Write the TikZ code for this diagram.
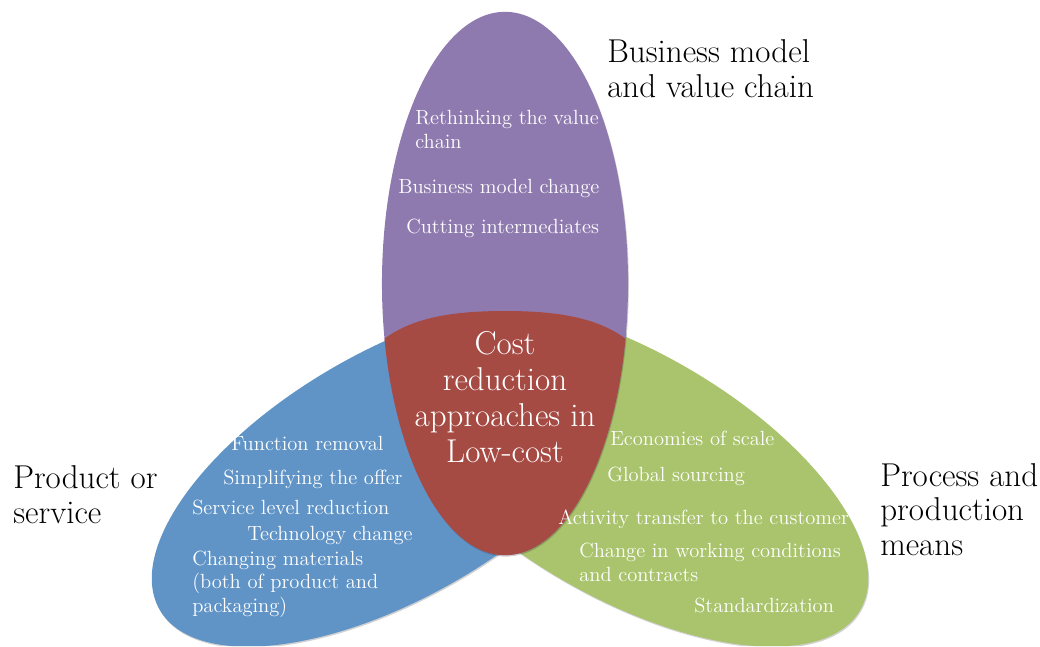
\documentclass[tikz,border=0pt]{standalone}
\usepackage{tikz}
\usetikzlibrary{positioning}
\definecolor{bizpurple}{RGB}{143,122,176}
\definecolor{prodblue}{RGB}{96,148,199}
\definecolor{procgreen}{RGB}{169,196,108}
\definecolor{corered}{RGB}{166,74,68}
\tikzstyle{setlabel} = [inner sep=0pt, anchor=base west, align=left,
    font=\fontsize{23.5}{24.5}\selectfont]
\tikzstyle{item} = [inner sep=0pt, anchor=base west, align=left, text=white,
    font=\fontsize{14.6}{16.5}\selectfont]
\tikzstyle{core} = [inner sep=0pt, anchor=base, align=center, text=white,
    font=\fontsize{23.5}{25.4}\selectfont]
\tikzstyle{longaxis} = [x radius=6.79cm, y radius=3.075cm]
\tikzstyle{upright} = [x radius=3.075cm, y radius=6.79cm]
\tikzstyle{shadowed} = [preaction={fill=black, opacity=0.18,
    transform canvas={xshift=0.6pt, yshift=-1pt}}]

\begin{document}
\begin{tikzpicture}[x=0.025cm, y=-0.025cm]
            \useasboundingbox (0,0) rectangle (1040,646);
            \coordinate (biz_c) at (505,283.5);
            \coordinate (prod_c) at (395,474);
            \coordinate (proc_c) at (625,474);

            % the three sets, the tips hidden under the purple one
            \begin{scope}
                \clip (0,0) -- (626,0) -- (626,342) -- (505,556) -- (505,646) -- (0,646) -- cycle;
                \fill[prodblue, shadowed, rotate around={30:(prod_c)}] (prod_c) ellipse [longaxis];
            \end{scope}
            \begin{scope}
                \clip (384,0) -- (384,342) -- (505,556) -- (505,646) -- (1040,646) -- (1040,0) -- cycle;
                \fill[procgreen, shadowed, rotate around={-30:(proc_c)}] (proc_c) ellipse [longaxis];
            \end{scope}
            \fill[bizpurple, shadowed] (biz_c) ellipse [upright];
            % common part
            \begin{scope}
                \clip (biz_c) ellipse [upright];
                \fill[corered] (370,352) .. controls (400,318) and (450,311) .. (505,311)
                    .. controls (560,311) and (610,318) .. (640,352) -- (640,600) -- (370,600) -- cycle;
            \end{scope}

            \node[core, name=core] at (505,462) {Cost\\reduction\\approaches in\\Low-cost};

            \node[setlabel, name=biz] at (607,97) {Business model\\and value chain};
            \node[setlabel, name=prod] at (13,523) {Product or\\service};
            \node[setlabel, name=proc] at (880,555) {Process and\\production\\means};

            \node[item, name=rethink] at (415,148) {Rethinking the value\\chain};
            \node[item, name=bmchange] at (398,193) {Business model change};
            \node[item, name=cutting] at (406,233) {Cutting intermediates};

            \node[item, name=function] at (231,450) {Function removal};
            \node[item, name=simplify] at (223,484) {Simplifying the offer};
            \node[item, name=service] at (192,514) {Service level reduction};
            \node[item, name=techno] at (247,540) {Technology change};
            \node[item, name=materials] at (192,612) {Changing materials\\(both of product and\\packaging)};

            \node[item, name=scale] at (610,445) {Economies of scale};
            \node[item, name=sourcing] at (607,481) {Global sourcing};
            \node[item, name=transfer] at (558,524) {Activity transfer to the customer};
            \node[item, name=working] at (579,581) {Change in working conditions\\and contracts};
            \node[item, name=standard] at (694,612) {Standardization};
        \end{tikzpicture}
\end{document}
